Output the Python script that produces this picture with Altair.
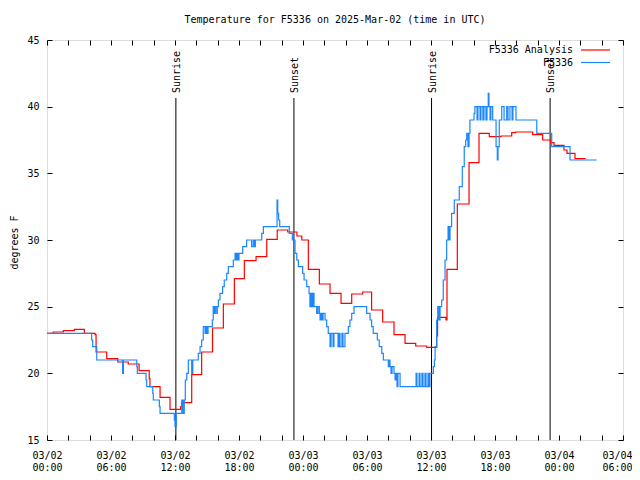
import altair as alt
import pandas as pd
from datetime import datetime, timedelta, timezone

# ---- data (times in UTC, "MM-DD HH:MM") ----
analysis_time = [
    "03-02 00:00", "03-02 00:35", "03-02 01:32", "03-02 02:34", "03-02 03:30",
    "03-02 04:30", "03-02 04:36", "03-02 05:36", "03-02 06:38", "03-02 07:37",
    "03-02 08:38", "03-02 09:35", "03-02 09:39", "03-02 10:36", "03-02 11:32",
    "03-02 12:32", "03-02 12:38", "03-02 13:34", "03-02 14:30", "03-02 15:31",
    "03-02 16:32", "03-02 17:34", "03-02 18:30", "03-02 19:36", "03-02 20:36",
    "03-02 21:35", "03-02 22:34", "03-02 23:26", "03-02 23:53", "03-03 00:30",
    "03-03 01:32", "03-03 02:32", "03-03 03:34", "03-03 04:34", "03-03 05:36",
    "03-03 06:26", "03-03 07:28", "03-03 08:32", "03-03 09:34", "03-03 10:34",
    "03-03 11:36", "03-03 12:32", "03-03 12:37", "03-03 13:24", "03-03 13:30",
    "03-03 14:28", "03-03 15:34", "03-03 16:30", "03-03 17:28", "03-03 18:34",
    "03-03 19:34", "03-03 19:56", "03-03 21:32", "03-03 22:28", "03-03 23:13",
    "03-03 23:32", "03-04 00:28", "03-04 00:45", "03-04 01:30", "03-04 02:30",
]
analysis_temp = [
    23.0, 23.1, 23.2, 23.3, 23.0,
    22.9, 21.6, 21.1, 20.85, 20.7,
    20.2, 19.6, 19.0, 18.2, 17.3,
    17.5, 17.8, 19.9, 21.6, 23.4,
    25.2, 27.1, 28.45, 28.75, 30.05,
    30.75, 30.6, 30.3, 30.0, 27.8,
    26.7, 26.0, 25.25, 25.95, 26.1,
    24.75, 23.85, 22.9, 22.25, 22.05,
    21.95, 22.8, 24.2, 24.0, 27.8,
    32.7, 35.8, 38.0, 37.75, 37.8,
    38.05, 38.1, 37.9, 37.5, 37.3,
    37.1, 36.75, 36.5, 36.1, 36.1,
]

obs_time = [
    "03-02 00:00", "03-02 04:11", "03-02 04:17", "03-02 04:40", "03-02 07:05",
    "03-02 07:10", "03-02 08:25", "03-02 08:28", "03-02 09:17", "03-02 09:21",
    "03-02 09:55", "03-02 09:58", "03-02 10:32", "03-02 10:36", "03-02 11:56",
    "03-02 12:00", "03-02 12:07", "03-02 12:38", "03-02 12:45", "03-02 12:52",
    "03-02 12:58", "03-02 13:06", "03-02 13:15", "03-02 13:34", "03-02 13:40",
    "03-02 14:11", "03-02 14:21", "03-02 14:30", "03-02 14:39", "03-02 14:49",
    "03-02 14:54", "03-02 15:00", "03-02 15:06", "03-02 15:30", "03-02 15:35",
    "03-02 15:41", "03-02 15:47", "03-02 15:55", "03-02 15:58", "03-02 16:04",
    "03-02 16:13", "03-02 16:28", "03-02 16:37", "03-02 16:51", "03-02 17:00",
    "03-02 17:28", "03-02 17:38", "03-02 17:43", "03-02 17:49", "03-02 17:54",
    "03-02 18:00", "03-02 18:21", "03-02 18:43", "03-02 19:11", "03-02 19:20",
    "03-02 19:27", "03-02 19:32", "03-02 20:08", "03-02 20:17", "03-02 21:34",
    "03-02 21:38", "03-02 21:43", "03-02 21:49", "03-02 22:43", "03-02 23:00",
    "03-02 23:15", "03-02 23:25", "03-02 23:34", "03-02 23:58", "03-03 00:06",
    "03-03 00:21", "03-03 00:34", "03-03 00:39", "03-03 00:45", "03-03 00:51",
    "03-03 00:56", "03-03 01:02", "03-03 01:17", "03-03 01:24", "03-03 01:32",
    "03-03 01:36", "03-03 01:41", "03-03 01:47", "03-03 01:53", "03-03 02:04",
    "03-03 02:13", "03-03 02:22", "03-03 02:32", "03-03 02:38", "03-03 02:49",
    "03-03 02:54", "03-03 03:17", "03-03 03:23", "03-03 03:28", "03-03 03:39",
    "03-03 03:45", "03-03 03:56", "03-03 04:15", "03-03 04:24", "03-03 04:34",
    "03-03 04:47", "03-03 05:58", "03-03 06:17", "03-03 06:26", "03-03 06:35",
    "03-03 06:58", "03-03 07:09", "03-03 07:23", "03-03 07:32", "03-03 08:00",
    "03-03 08:05", "03-03 08:09", "03-03 08:15", "03-03 08:21", "03-03 08:32",
    "03-03 08:38", "03-03 08:43", "03-03 08:49", "03-03 08:54", "03-03 09:06",
    "03-03 10:36", "03-03 10:41", "03-03 10:53", "03-03 10:58", "03-03 11:09",
    "03-03 11:15", "03-03 11:26", "03-03 11:32", "03-03 11:43", "03-03 11:49",
    "03-03 11:54", "03-03 12:13", "03-03 12:19", "03-03 12:23", "03-03 12:32",
    "03-03 12:38", "03-03 12:45", "03-03 12:51", "03-03 13:00", "03-03 13:09",
    "03-03 13:19", "03-03 13:28", "03-03 13:36", "03-03 13:41", "03-03 13:47",
    "03-03 13:56", "03-03 14:11", "03-03 14:39", "03-03 14:56", "03-03 15:07",
    "03-03 15:15", "03-03 15:21", "03-03 15:28", "03-03 15:34", "03-03 15:39",
    "03-03 16:02", "03-03 16:07", "03-03 16:19", "03-03 16:24", "03-03 16:36",
    "03-03 16:41", "03-03 16:52", "03-03 16:58", "03-03 17:09", "03-03 17:15",
    "03-03 17:22", "03-03 17:26", "03-03 17:32", "03-03 17:37", "03-03 17:47",
    "03-03 18:06", "03-03 18:13", "03-03 18:17", "03-03 18:24", "03-03 18:38",
    "03-03 18:51", "03-03 19:06", "03-03 19:13", "03-03 19:24", "03-03 19:36",
    "03-03 19:41", "03-03 19:58", "03-03 21:55", "03-03 23:19", "03-04 01:02",
    "03-04 03:32",
]
obs_temp = [
    23.0, 22.5, 22.0, 21.0, 20.0,
    21.0, 20.5, 20.0, 19.5, 19.0,
    18.5, 18.0, 17.5, 17.0, 16.5,
    16.0, 17.0, 18.0, 17.0, 18.0,
    19.5, 20.0, 21.0, 20.0, 21.0,
    21.5, 22.0, 22.5, 23.5, 23.0,
    23.5, 23.0, 23.5, 24.0, 25.0,
    24.5, 25.0, 24.5, 25.0, 25.5,
    26.0, 26.5, 27.0, 27.5, 28.0,
    28.5, 29.0, 28.5, 29.0, 28.5,
    29.0, 29.5, 30.0, 29.5, 30.0,
    29.5, 30.0, 30.5, 31.0, 33.0,
    32.0, 31.5, 31.0, 30.5, 30.0,
    29.0, 28.5, 28.0, 27.5, 27.0,
    26.5, 26.0, 25.0, 26.0, 25.0,
    26.0, 25.0, 24.5, 25.0, 24.5,
    24.0, 24.5, 24.0, 24.5, 24.0,
    23.5, 23.0, 22.0, 23.0, 22.0,
    23.0, 22.0, 23.0, 22.0, 23.0,
    22.0, 23.0, 23.5, 24.0, 24.5,
    25.0, 24.5, 24.0, 23.5, 23.0,
    22.5, 22.0, 21.5, 21.0, 20.5,
    21.0, 20.5, 20.0, 20.5, 20.0,
    19.5, 20.0, 19.0, 20.0, 19.0,
    20.0, 19.0, 20.0, 19.0, 20.0,
    19.0, 20.0, 19.0, 20.0, 19.0,
    20.0, 20.5, 21.0, 22.0, 24.0,
    25.0, 24.0, 25.0, 25.5, 27.0,
    28.5, 30.0, 31.0, 30.0, 31.0,
    32.0, 33.0, 34.0, 35.5, 37.0,
    37.5, 38.0, 37.0, 38.0, 39.0,
    39.5, 40.0, 39.0, 40.0, 39.0,
    40.0, 39.0, 40.0, 39.0, 40.0,
    41.0, 40.0, 39.0, 40.0, 39.0,
    37.0, 36.0, 37.0, 39.0, 40.0,
    39.0, 40.0, 39.0, 40.0, 39.0,
    40.0, 39.0, 38.0, 37.0, 36.0,
    36.0,
]

sun_time = ["03-02 12:05", "03-02 23:09", "03-03 12:03", "03-03 23:10"]
sun_label = ["Sunrise", "Sunset", "Sunrise", "Sunset"]

series_names = ["F5336 Analysis", "F5336"]
series_colors = ["#ff0000", "#1a86ff"]

title_text = "Temperature for F5336 on 2025-Mar-02 (time in UTC)"
y_title = "degrees F"
y_ticks = [15, 20, 25, 30, 35, 40, 45]

# ---- helpers ----
def iso(s):
    return f"2025-{s[:5]}T{s[6:]}:00Z"

start = datetime(2025, 3, 2, 0, 0, tzinfo=timezone.utc)
def ms(dt):
    return int(dt.timestamp() * 1000)

x_tick_ms = [ms(start + timedelta(hours=h)) for h in range(0, 55, 2)]
x_domain = [ms(start), ms(start + timedelta(hours=54))]
last_test = f"datum.value >= {x_domain[1] - 1000}"

red_df = pd.DataFrame({"t": [iso(s) for s in analysis_time], "v": analysis_temp})
blue_df = pd.DataFrame({"t": [iso(s) for s in obs_time], "v": obs_temp})
sun_df = pd.DataFrame({"t": [iso(s) for s in sun_time], "label": sun_label})

FONT = "DejaVu Sans Mono"
W, H = 576, 400

xscale = alt.Scale(type="utc", domain=x_domain, nice=False)
yscale = alt.Scale(domain=[15, 45], nice=False, zero=False)

label_expr = ("utchours(datum.value) % 6 == 0 ? "
              "[utcFormat(datum.value, '%m/%d'), utcFormat(datum.value, '%H:%M')] : ''")

x_bottom = alt.Axis(orient="bottom", values=x_tick_ms, labelExpr=label_expr,
                    labelOverlap=False, labelFlush=False, labelBound=False,
                    labelAlign={"condition": {"test": last_test, "value": "right"},
                                "value": "center"},
                    labelOffset={"condition": {"test": last_test, "value": 9},
                                 "value": 0},
                    tickSize=5, offset=-5, domain=False, grid=False, title=None,
                    labelFont=FONT, labelFontSize=10, labelColor="black",
                    tickColor="black", labelPadding=10, labelLineHeight=12)
x_top = alt.Axis(orient="top", values=x_tick_ms, labels=False,
                 tickSize=5, offset=-5, domain=False, grid=False, title=None,
                 tickColor="black")
y_left = alt.Axis(orient="left", values=y_ticks, tickSize=5, offset=-5,
                  domain=False, grid=False, title=y_title, titleFont=FONT,
                  titleFontSize=10, titleFontWeight="normal", titleColor="black",
                  titleAngle=270, titleX=-38, titleY=H / 2 + 2,
                  titleAlign="center", titleBaseline="middle",
                  labelFont=FONT, labelFontSize=10, labelColor="black",
                  tickColor="black", labelPadding=8)
y_right = alt.Axis(orient="right", values=y_ticks, labels=False, tickSize=5,
                   offset=-5, domain=False, grid=False, title=None,
                   tickColor="black")

sun_rules = alt.Chart(sun_df).mark_rule(color="black", strokeWidth=1).encode(
    x=alt.X("t:T", scale=xscale, axis=None),
    y=alt.value(58), y2=alt.value(H),
)
sun_text = alt.Chart(sun_df).mark_text(
    angle=270, align="left", baseline="middle", font=FONT, fontSize=10,
    color="black", dy=1,
).encode(
    x=alt.X("t:T", scale=xscale, axis=None),
    y=alt.value(53),
    text="label:N",
)

red = alt.Chart(red_df).mark_line(interpolate="step-after", color=series_colors[0],
                                  strokeWidth=1.2).encode(
    x=alt.X("t:T", scale=xscale, axis=x_bottom),
    y=alt.Y("v:Q", scale=yscale, axis=y_left),
)
blue = alt.Chart(blue_df).mark_line(interpolate="step-after", color=series_colors[1],
                                    strokeWidth=1.2).encode(
    x=alt.X("t:T", scale=xscale, axis=x_top),
    y=alt.Y("v:Q", scale=yscale, axis=y_right),
)

legend_layers = []
for i, (name, col) in enumerate(zip(series_names, series_colors)):
    yy = 10 + i * 12.5
    legend_layers.append(
        alt.Chart(alt.Data(values=[{"label": name}])).mark_text(
            align="right", baseline="middle", font=FONT, fontSize=10, color="black"
        ).encode(x=alt.value(526), y=alt.value(yy), text="label:N")
    )
    legend_layers.append(
        alt.Chart(alt.Data(values=[{"label": name}])).mark_rule(
            color=col, strokeWidth=1.2
        ).encode(x=alt.value(534), x2=alt.value(563), y=alt.value(yy))
    )

chart = alt.layer(
    sun_rules, sun_text, red, blue, *legend_layers
).resolve_axis(x="independent", y="independent").properties(
    width=W, height=H,
    title=alt.TitleParams(title_text, font=FONT, fontSize=10, fontWeight="normal",
                          color="black", anchor="middle", offset=10),
    autosize=alt.AutoSizeParams(type="none"),
    padding={"left": 39, "top": 32, "right": 9, "bottom": 32},
).configure_view(stroke="black", strokeWidth=1).configure(background="white")

chart.save("out.html", embed_options={"renderer": "svg", "actions": False})
